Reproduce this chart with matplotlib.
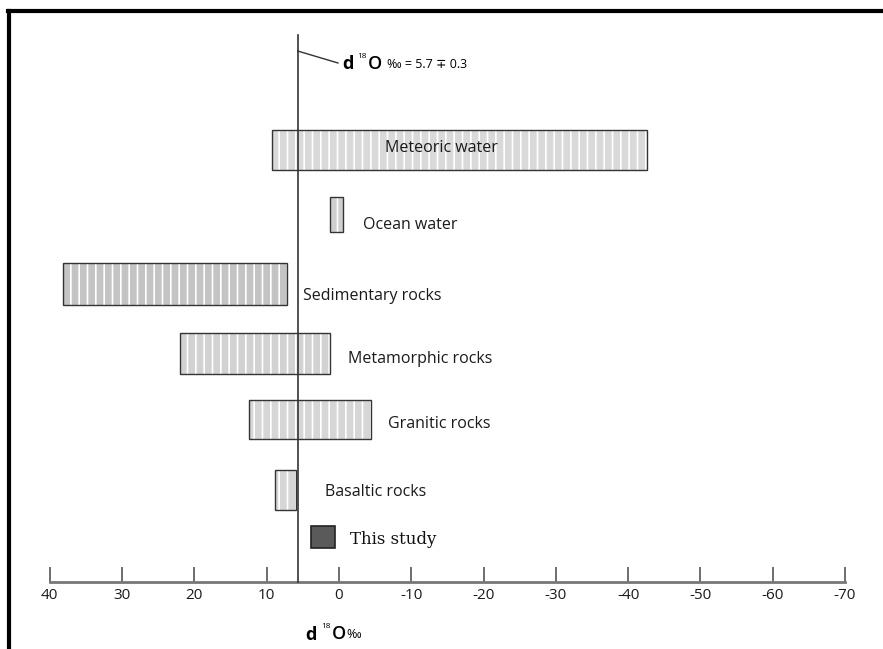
import matplotlib.pyplot as plt

plt.rcParams["hatch.linewidth"] = 1.2

# d18O ranges (per mil)
categories = [
    "Meteoric water",
    "Ocean water",
    "Sedimentary rocks",
    "Metamorphic rocks",
    "Granitic rocks",
    "Basaltic rocks",
    "This study",
]
low = [-42.6, -0.6, 7.2, 1.2, -4.5, 6.0, 0.5]
high = [9.2, 1.2, 38.2, 22.0, 12.5, 8.8, 3.8]
mantle_value = 5.7
mantle_error = 0.3
xticks = [40, 30, 20, 10, 0, -10, -20, -30, -40, -50, -60, -70]

# layout (y in pixel-like units, label x in data units)
bar_y = [150, 214, 284, 353, 419, 490, 537]
bar_h = [40, 35, 42, 41, 39, 40, 22]
label_x = [-14.2, -3.3, 4.9, -1.2, -6.8, 1.9, -1.5]
label_y = [148, 225, 296, 359, 424, 492, 540]
faces = ["#d9d9d9", "#cfcfcf", "#c4c4c4", "#d2d2d2", "#d6d6d6", "#d6d6d6", "#5a5a5a"]
sans = ["Open Sans", "DejaVu Sans"]

fig = plt.figure(figsize=(8.83, 6.49), dpi=100)
ax = fig.add_axes([0, 0, 1, 1])
ax.set_xlim(338.9 / 7.23, (338.9 - 883) / 7.23)
ax.set_ylim(649, 0)

for i, name in enumerate(categories):
    left = low[i]
    width = high[i] - low[i]
    if name == "This study":
        ax.barh(bar_y[i], width, left=left, height=bar_h[i], color=faces[i],
                edgecolor="#222222", linewidth=1.2, zorder=3)
        ax.text(label_x[i], label_y[i], name, family="DejaVu Serif",
                fontsize=12, va="center", ha="left", color="#111111")
        continue
    ax.barh(bar_y[i], width, left=left, height=bar_h[i], color=faces[i],
            edgecolor="white", hatch="||", linewidth=0, zorder=2)
    ax.barh(bar_y[i], width, left=left, height=bar_h[i], fill=False,
            edgecolor="#333333", linewidth=1.0, zorder=3)
    ha = "center" if name == "Meteoric water" else "left"
    ax.text(label_x[i], label_y[i], name, family=sans, fontsize=11.5,
            va="center", ha=ha, color="#1a1a1a", zorder=4)

# mantle reference line with leader to its label
ax.plot([mantle_value, mantle_value], [35, 582], color="#333333", lw=1.2, zorder=4)
ax.plot([mantle_value, (338.9 - 338) / 7.23], [51, 63], color="#333333", lw=1.0)
ax.text(-0.4, 64, "d", family=sans, fontsize=13, fontweight="bold",
        va="center", ha="left")
ax.text(-2.5, 57, "18", family=sans, fontsize=6, va="center", ha="left")
ax.text(-4.0, 64, "O", family=sans, fontsize=13, fontweight="semibold",
        va="center", ha="left")
ax.text(-6.7, 65, "‰ = %.1f ∓ %.1f" % (mantle_value, mantle_error),
        family=sans, fontsize=9, va="center", ha="left")

# x axis drawn as the bottom spine at y=582
for s in ["top", "left", "right"]:
    ax.spines[s].set_visible(False)
ax.spines["bottom"].set_position(("data", 582))
ax.spines["bottom"].set_bounds(xticks[0], xticks[-1])
ax.spines["bottom"].set_color("#777777")
ax.spines["bottom"].set_linewidth(2)
ax.set_xticks(xticks)
ax.set_xticklabels([str(t) for t in xticks], family="Open Sans", fontsize=11,
                   color="#1a1a1a")
ax.tick_params(axis="x", direction="in", length=11, width=1.2, color="#555555", pad=4)
ax.set_yticks([])

# axis title
ax.text(4.6, 635, "d", family=sans, fontsize=13, fontweight="bold",
        va="center", ha="left")
ax.text(2.5, 627, "18", family=sans, fontsize=6, va="center", ha="left")
ax.text(1.0, 634, "O", family=sans, fontsize=13, fontweight="semibold",
        va="center", ha="left")
ax.text(-1.0, 635, "‰", family=sans, fontsize=9, va="center", ha="left")

# outer frame (top and left edges of the scanned figure)
fig.add_artist(plt.Line2D([8 / 883, 1], [1 - 11 / 649, 1 - 11 / 649],
                          color="black", lw=3, transform=fig.transFigure))
fig.add_artist(plt.Line2D([9 / 883, 9 / 883], [0, 1 - 11 / 649],
                          color="black", lw=3, transform=fig.transFigure))

fig.savefig("out.png", dpi=100)
